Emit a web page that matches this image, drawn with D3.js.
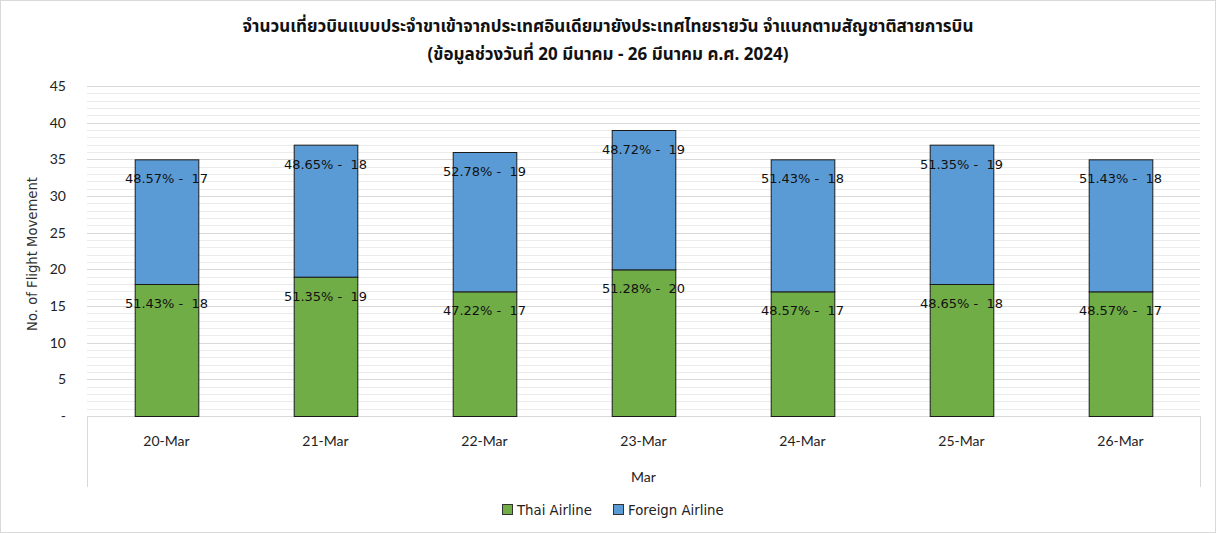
<!DOCTYPE html>
<html><head><meta charset="utf-8">
<script src="https://cdn.jsdelivr.net/npm/d3@7"></script>
<style>body{margin:0;background:#fff;}svg{display:block;}</style>
</head><body>
<svg id="c" width="1216" height="533"></svg>
<script>
const categories = ["20-Mar","21-Mar","22-Mar","23-Mar","24-Mar","25-Mar","26-Mar"];
const thaiAirline = [18,19,17,20,17,18,17];
const foreignAirline = [17,18,19,19,18,19,18];
const seriesNames = ["Thai Airline","Foreign Airline"];
const seriesColors = ["#70AD47","#5B9BD5"];
const yTicks = [0,5,10,15,20,25,30,35,40,45];
const titleLines = ["จำนวนเที่ยวบินแบบประจำขาเข้าจากประเทศอินเดียมายังประเทศไทยรายวัน  จำแนกตามสัญชาติสายการบิน","(ข้อมูลช่วงวันที่ 20 มีนาคม - 26 มีนาคม ค.ศ. 2024)"];
const groupLabel = "Mar";
const yTitle = "No. of Flight Movement";

const svg = d3.select("#c");
const W=1216,H=533;
svg.append("rect").attr("x",0.5).attr("y",0.5).attr("width",W-1).attr("height",H-1).attr("fill","#fff").attr("stroke","#d9d9d9");

const L=87,R=1200,T=86,B=416;
const x = d3.scaleBand().domain(categories).range([L,R]).paddingInner(0.6).paddingOuter(0.3);
const y = d3.scaleLinear().domain([0,45]).range([B,T]);

// minor grid
svg.append("g").selectAll("line").data(d3.range(0,46).filter(v=>v%5!==0)).join("line")
  .attr("x1",L).attr("x2",R).attr("y1",d=>Math.round(y(d))+0.5).attr("y2",d=>Math.round(y(d))+0.5)
  .attr("stroke","#ebebeb").attr("stroke-width",1);
svg.append("g").selectAll("line").data(yTicks.slice(1)).join("line")
  .attr("x1",L).attr("x2",R).attr("y1",d=>Math.round(y(d))+0.5).attr("y2",d=>Math.round(y(d))+0.5)
  .attr("stroke","#d9d9d9").attr("stroke-width",1);

// y axis labels
const yAxis = d3.axisLeft(y).tickValues(yTicks).tickSize(0).tickPadding(0).tickFormat(d=>d===0?"-":d);
const ya = svg.append("g").attr("transform",`translate(66,0)`).call(yAxis);
ya.select(".domain").remove();
ya.selectAll("text").attr("font-family","Lato, 'Open Sans', sans-serif").attr("font-size",14).attr("fill","#222");

svg.append("text").attr("transform",`translate(37,${(T+B)/2+3}) rotate(-90)`).attr("text-anchor","middle")
  .attr("font-family","'DejaVu Sans', sans-serif").attr("font-size",13.2).attr("fill","#333").text(yTitle);

// x axis box
const bx = svg.append("g");
bx.append("line").attr("x1",L).attr("x2",R).attr("y1",B+0.5).attr("y2",B+0.5).attr("stroke","#d9d9d9");
bx.append("line").attr("x1",L+0.5).attr("x2",L+0.5).attr("y1",B).attr("y2",487).attr("stroke","#d9d9d9");
bx.append("line").attr("x1",R+0.5).attr("x2",R+0.5).attr("y1",B).attr("y2",487).attr("stroke","#d9d9d9");

const xAxis = d3.axisBottom(x).tickSize(0).tickPadding(0);
const xa = svg.append("g").attr("transform",`translate(0,${B+30})`).call(xAxis);
xa.select(".domain").remove();
xa.selectAll("text").attr("dy",0).attr("font-family","Lato, 'Open Sans', sans-serif").attr("font-size",14).attr("fill","#222");
svg.append("text").attr("x",(L+R)/2).attr("y",482).attr("text-anchor","middle")
  .attr("font-family","Lato, sans-serif").attr("font-size",14).attr("fill","#222").text(groupLabel);

// stacked bars
const rows = categories.map((c,i)=>({cat:c, thai:thaiAirline[i], foreign:foreignAirline[i]}));
const stack = d3.stack().keys(["thai","foreign"])(rows);
const g = svg.append("g");
stack.forEach((s,si)=>{
  g.append("g").selectAll("rect").data(s).join("rect")
    .attr("x",d=>x(d.data.cat)+0.5).attr("width",x.bandwidth())
    .attr("y",d=>y(d[1])+0.5).attr("height",d=>y(d[0])-y(d[1]))
    .attr("fill",seriesColors[si]).attr("stroke","#1a1a1a").attr("stroke-width",1);
});
stack.forEach((s,si)=>{
  g.append("g").selectAll("text").data(s).join("text")
    .attr("x",d=>x(d.data.cat)+x.bandwidth()/2).attr("y",d=>y(d[1])+24)
    .attr("text-anchor","middle").attr("xml:space","preserve")
    .attr("font-family","'DejaVu Sans', sans-serif").attr("font-size",13).attr("fill","#111")
    .text(d=>{const v=d[1]-d[0]; const tot=d.data.thai+d.data.foreign; return (v/tot*100).toFixed(2)+"% -  "+v;});
});

// title
titleLines.forEach((t,i)=>{
  svg.append("text").attr("x",608).attr("y",32+i*28).attr("text-anchor","middle")
    .attr("font-family","'Noto Sans Thai', 'Noto Sans', 'DejaVu Sans', sans-serif").attr("font-weight","bold")
    .attr("font-size",17).attr("fill","#111").text(t);
});

// legend
const lg = svg.append("g");
const legX=[502,613];
seriesNames.forEach((n,i)=>{
  lg.append("rect").attr("x",legX[i]+0.5).attr("y",504.5).attr("width",10).attr("height",10)
    .attr("fill",seriesColors[i]).attr("stroke","#333");
  lg.append("text").attr("x",legX[i]+15).attr("y",515).attr("font-family","'DejaVu Sans', sans-serif")
    .attr("font-size",13.3).attr("fill","#222").text(n);
});
</script>
</body></html>
